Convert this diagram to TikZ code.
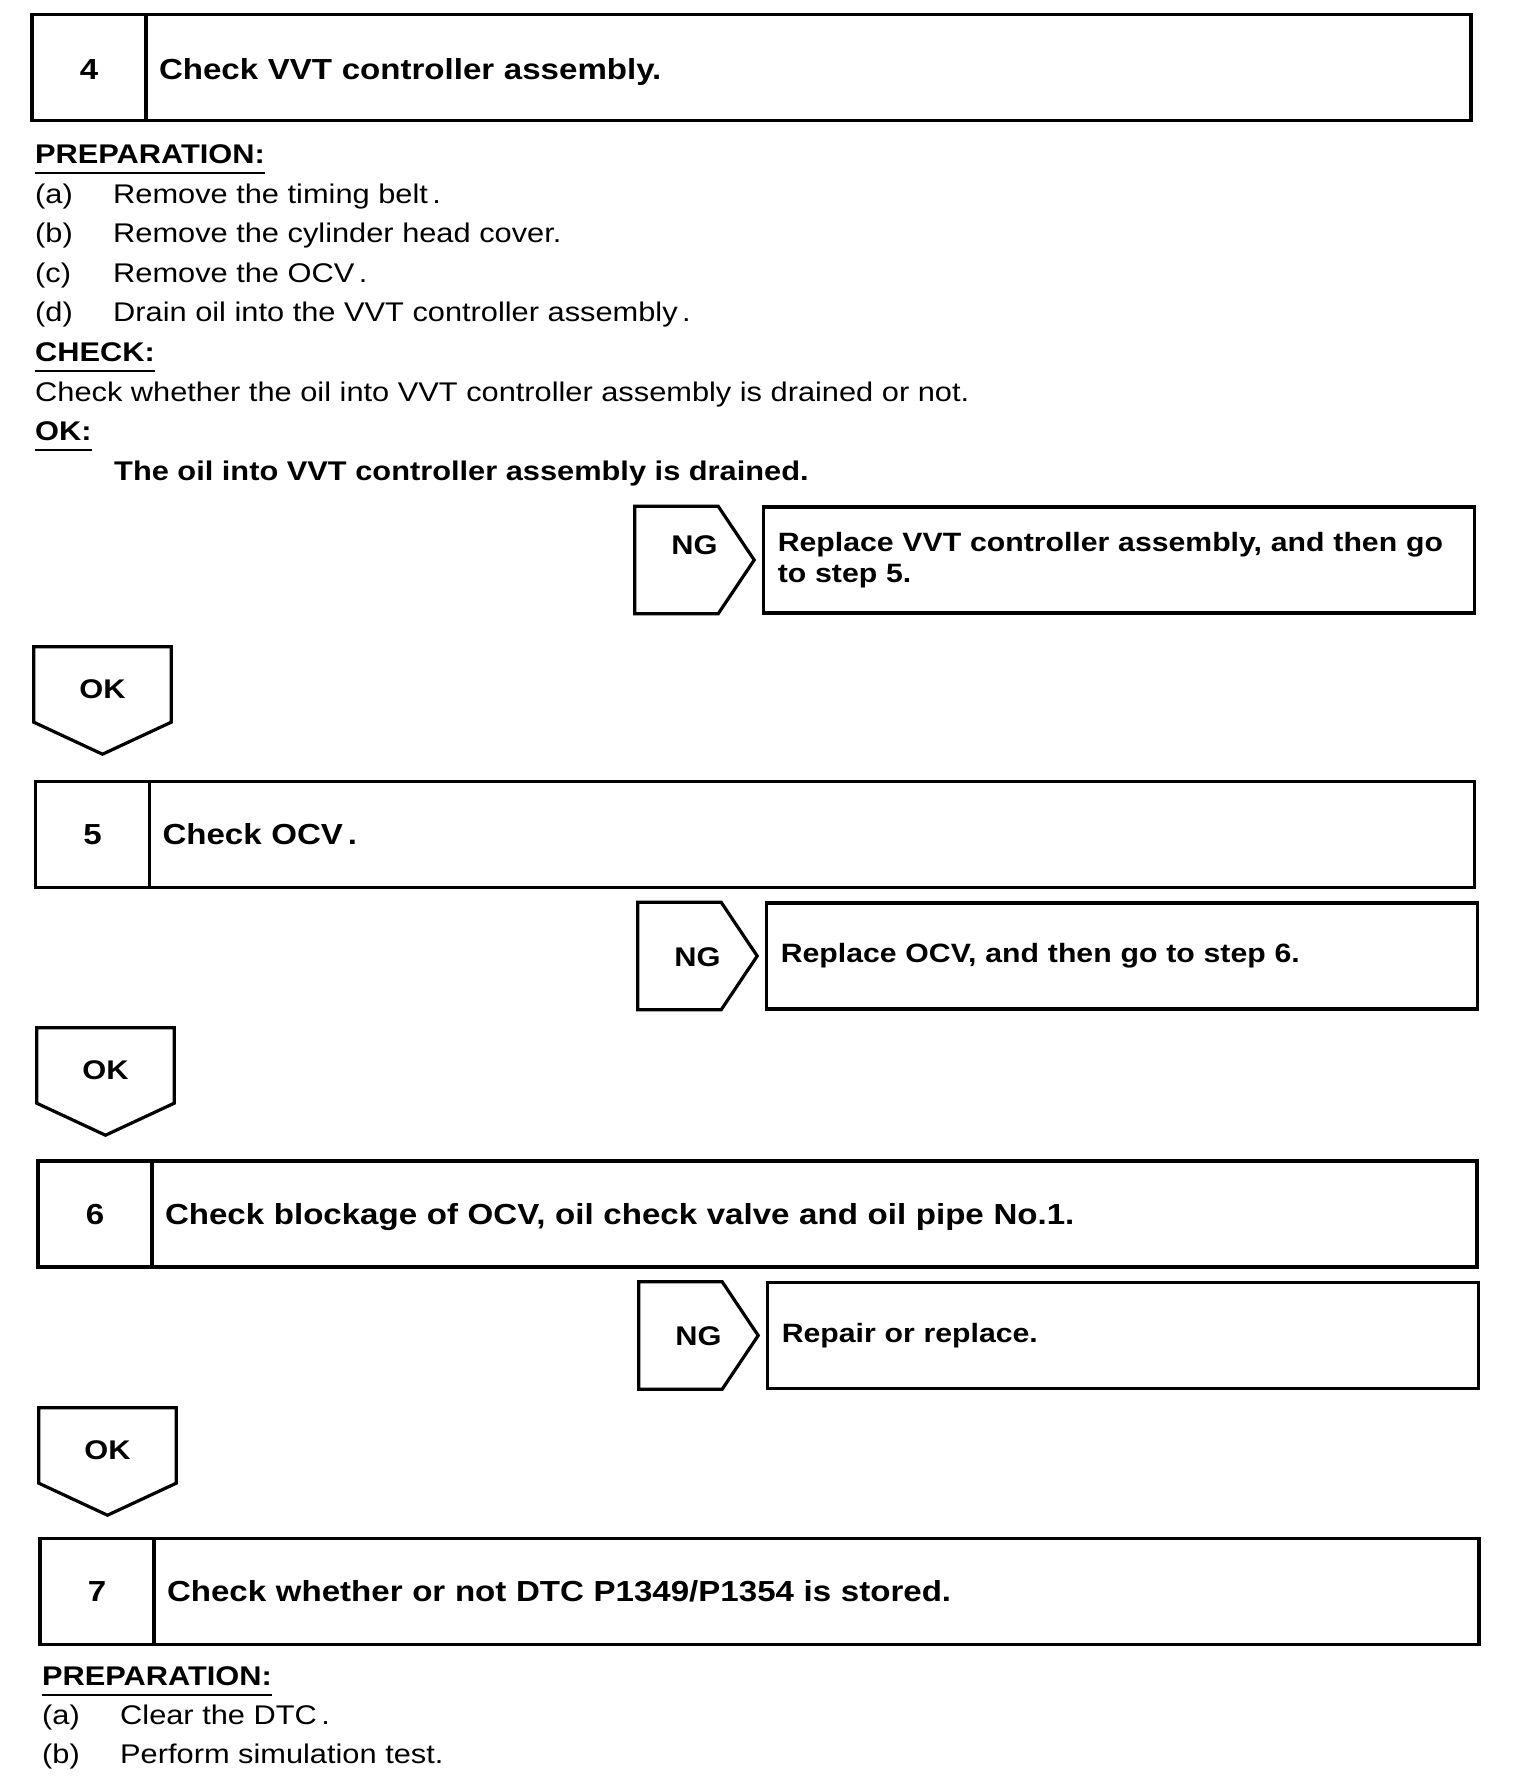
\documentclass[tikz,border=0pt]{standalone}
\usepackage{fontspec}
\setmainfont{Liberation Sans}[FakeStretch=1.14]
\usetikzlibrary{positioning}

\begin{document}
\begin{tikzpicture}[x=1pt, y=-1pt,
    stepnum/.style={rectangle, draw, line width=3.2pt, outer sep=0pt, minimum width=114pt, minimum height=106pt, inner sep=0pt, text height=20pt, text depth=0pt, font=\fontsize{29}{34}\selectfont\bfseries},
    steptitle/.style={rectangle, draw, line width=3.2pt, outer sep=0pt, minimum height=106pt, text width=1299pt, inner xsep=13pt, inner ysep=0pt, align=left, text height=20pt, text depth=0pt, font=\fontsize{29}{34}\selectfont\bfseries},
    ngtag/.style={rectangle, minimum width=119pt, minimum height=107pt, inner sep=0pt, text height=20pt, text depth=0pt, font=\fontsize{27}{30}\selectfont\bfseries},
    oktag/.style={rectangle, minimum width=137pt, minimum height=107pt, inner sep=0pt, text height=20pt, text depth=25pt, font=\fontsize{27}{30}\selectfont\bfseries},
    tagline/.style={line width=3.2pt, line join=miter},
    ngbox/.style={rectangle, draw, line width=3.2pt, minimum height=106pt, text width=683pt, inner xsep=14pt, align=left, font=\fontsize{26.5}{31}\selectfont\bfseries},
    sectlabel/.style={anchor=base west, inner sep=0pt, font=\fontsize{27}{39}\selectfont\bfseries},
    itemtext/.style={anchor=base west, inner sep=0pt, font=\fontsize{27}{39}\selectfont},
    uline/.style={line width=2pt}]

    \useasboundingbox (0,0) rectangle (1520,1792);

    % step 4
    \node [stepnum, text height=24pt] (num4) at (89,67.5) {4};
    \node [steptitle, text height=24pt, right=0pt of num4] (title4) {Check VVT controller assembly.};

    \node [sectlabel] (prep4) at (35,163) {PREPARATION:};
    \draw [uline] ([yshift=-10pt]prep4.base west) -- ([yshift=-10pt]prep4.base east);
    \node [itemtext] (prep4a) at (35,203) {(a)};
    \node [itemtext] (prep4at) at (113,203) {Remove the timing belt\,.};
    \node [itemtext] (prep4b) at (35,242) {(b)};
    \node [itemtext] (prep4bt) at (113,242) {Remove the cylinder head cover.};
    \node [itemtext] (prep4c) at (35,282) {(c)};
    \node [itemtext] (prep4ct) at (113,282) {Remove the OCV\,.};
    \node [itemtext] (prep4d) at (35,321) {(d)};
    \node [itemtext] (prep4dt) at (113,321) {Drain oil into the VVT controller assembly\,.};

    \node [sectlabel] (check4) at (35,361) {CHECK:};
    \draw [uline] ([yshift=-10pt]check4.base west) -- ([yshift=-10pt]check4.base east);
    \node [itemtext] (check4t) at (35,401) {Check whether the oil into VVT controller assembly is drained or not.};

    \node [sectlabel] (ok4) at (35,440) {OK:};
    \draw [uline] ([yshift=-10pt]ok4.base west) -- ([yshift=-10pt]ok4.base east);
    \node [sectlabel] (ok4t) at (114,480) {The oil into VVT controller assembly is drained.};

    \node [ngtag, text depth=32pt] (ng4) at (694.5,560) {NG};
    \node [ngbox, right=8pt of ng4] (fix4) {Replace VVT controller assembly, and then go\\to step 5.};

    \node [oktag] (okarr4) at (102.5,700.5) {OK};

    % step 5
    \node [stepnum] (num5) at (92.5,834.5) {5};
    \node [steptitle, right=0pt of num5] (title5) {Check OCV\,.};

    \node [ngtag] (ng5) at (697.5,956) {NG};
    \node [ngbox, right=8pt of ng5] (fix5) {Replace OCV, and then go to step 6.};

    \node [oktag] (okarr5) at (105.5,1081.5) {OK};

    % step 6
    \node [stepnum] (num6) at (95,1214) {6};
    \node [steptitle, right=0pt of num6] (title6) {Check blockage of OCV, oil check valve and oil pipe No.1.};

    \node [ngtag] (ng6) at (698.5,1335.5) {NG};
    \node [ngbox, right=8pt of ng6] (fix6) {Repair or replace.};

    \node [oktag] (okarr6) at (107.5,1461.5) {OK};

    % step 7
    \node [stepnum] (num7) at (97,1591.5) {7};
    \node [steptitle, right=0pt of num7] (title7) {Check whether or not DTC P1349/P1354 is stored.};

    \node [sectlabel] (prep7) at (42,1685) {PREPARATION:};
    \draw [uline] ([yshift=-10pt]prep7.base west) -- ([yshift=-10pt]prep7.base east);
    \node [itemtext] (prep7a) at (42,1724) {(a)};
    \node [itemtext] (prep7at) at (120,1724) {Clear the DTC\,.};
    \node [itemtext] (prep7b) at (42,1763) {(b)};
    \node [itemtext] (prep7bt) at (120,1763) {Perform simulation test.};

    % tag outlines
    \foreach \t in {ng4,ng5,ng6}
      \draw [tagline] (\t.north west) -- ([xshift=-36pt]\t.north east) -- (\t.east) -- ([xshift=-36pt]\t.south east) -- (\t.south west) -- cycle;
    \foreach \t in {okarr4,okarr5,okarr6}
      \draw [tagline] (\t.north west) -- (\t.north east) -- ([yshift=32pt]\t.south east) -- (\t.south) -- ([yshift=32pt]\t.south west) -- cycle;
\end{tikzpicture}
\end{document}
